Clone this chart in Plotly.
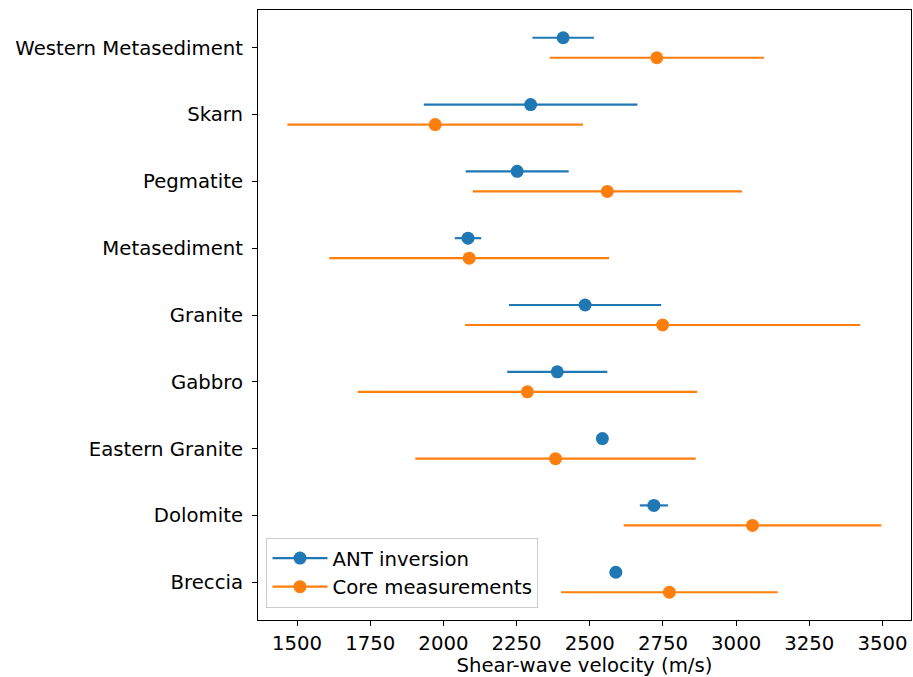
import plotly.graph_objects as go

# Rock units, bottom to top
rocks = ["Breccia", "Dolomite", "Eastern Granite", "Gabbro", "Granite",
         "Metasediment", "Pegmatite", "Skarn", "Western Metasediment"]

# Shear-wave velocity (m/s) and uncertainty for each rock unit
ant_vs = [2589, 2719, 2543, 2389, 2484, 2084, 2252, 2298, 2409]
ant_err = [0, 48, 0, 171, 260, 45, 176, 365, 105]
core_vs = [2772, 3056, 2383, 2287, 2749, 2088, 2560, 1972, 2729]
core_err = [370, 440, 479, 580, 675, 478, 460, 505, 366]

BLUE = "#1f77b4"
ORANGE = "#ff7f0e"
offset = 0.15
ypos = list(range(len(rocks)))

fig = go.Figure()

def add_series(vals, errs, color, name, dy):
    fig.add_trace(go.Scatter(
        x=vals, y=[y + dy for y in ypos], mode="markers",
        marker=dict(color=color, size=13),
        error_x=dict(type="data", array=errs, visible=True,
                     color=color, thickness=2.2, width=0),
        showlegend=False, hoverinfo="x"))
    # legend entry: marker on a short line, like an errorbar handle
    fig.add_trace(go.Scatter(
        x=[None], y=[None], mode="lines+markers", name=name,
        marker=dict(color=color, size=13),
        line=dict(color=color, width=2.2)))

add_series(ant_vs, ant_err, BLUE, "ANT inversion", offset)
add_series(core_vs, core_err, ORANGE, "Core measurements", -offset)

FS = 19.7
font = dict(family="DejaVu Sans", size=FS, color="black")

fig.update_layout(
    width=913, height=677,
    margin=dict(l=258, r=2, t=10, b=57),
    paper_bgcolor="white", plot_bgcolor="white",
    font=font,
    showlegend=True,
    legend=dict(x=0.013, y=0.02, xanchor="left", yanchor="bottom",
                bgcolor="rgba(255,255,255,0.8)", bordercolor="#cccccc",
                borderwidth=1, font=font, itemwidth=55),
)

fig.update_xaxes(
    range=[1366.6, 3597.4],
    tickvals=[1500, 1750, 2000, 2250, 2500, 2750, 3000, 3250, 3500],
    ticks="outside", ticklen=5, tickwidth=1, tickcolor="black",
    tickfont=font,
    showline=True, linecolor="black", linewidth=1, mirror=True,
    showgrid=False, zeroline=False,
    title=dict(text="Shear-wave velocity (m/s)", standoff=6, font=font),
)
fig.update_yaxes(
    range=[-0.565, 8.565],
    tickvals=ypos, ticktext=rocks,
    ticks="outside", ticklen=5, tickwidth=1, tickcolor="black",
    tickfont=font, ticklabelstandoff=5,
    showline=True, linecolor="black", linewidth=1, mirror=True,
    showgrid=False, zeroline=False,
)

fig.write_html("out.html")
